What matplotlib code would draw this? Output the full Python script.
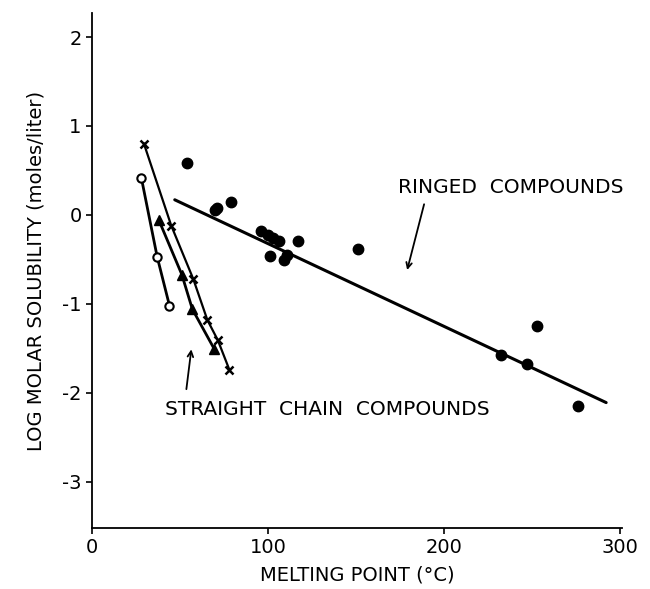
import numpy as np
import matplotlib.pyplot as plt

# ringed compounds (filled circles)
ring_mp = [54, 70, 71, 79, 96, 100, 103, 106, 117, 101, 109, 111, 151, 232, 247, 253, 276]
ring_sol = [0.58, 0.06, 0.08, 0.14, -0.18, -0.23, -0.26, -0.29, -0.29, -0.46, -0.51, -0.45, -0.38, -1.58, -1.68, -1.25, -2.15]
ring_fit_x = [47, 292]
ring_fit_y = [0.17, -2.11]

# straight chain compounds, three homologous series
open_mp = [28, 37, 44]
open_sol = [0.42, -0.47, -1.02]

tri_mp = [38, 51, 57, 69.5]
tri_sol = [-0.06, -0.67, -1.06, -1.51]

cross_mp = [29.5, 45, 57.5, 65.5, 71.5, 78]
cross_sol = [0.80, -0.12, -0.72, -1.18, -1.41, -1.74]

yticks = [-3, -2, -1, 0, 1, 2]
xticks = [0, 100, 200, 300]

plt.rcParams['font.family'] = 'DejaVu Sans'

fig = plt.figure(figsize=(6.5, 5.89), dpi=100)
ax = fig.add_axes([92/650, 1 - 528/589, 530/650, 515/589])

ax.plot(ring_fit_x, ring_fit_y, color='black', lw=2.2, solid_capstyle='round')
ax.plot(ring_mp, ring_sol, 'o', color='black', ms=7.5)

ax.plot(open_mp, open_sol, '-o', color='black', lw=2, ms=6, mfc='white', mew=1.5)
ax.plot(tri_mp, tri_sol, '-^', color='black', lw=2, ms=7.5)
ax.plot(cross_mp, cross_sol, '-x', color='black', lw=1.6, ms=6, mew=1.8)

ax.text(174, 0.31, 'RINGED  COMPOUNDS', fontsize=14.5, va='center', ha='left')
ax.annotate('', xy=(178.6, -0.65), xytext=(189, 0.15),
            arrowprops=dict(arrowstyle='->', color='black', lw=1.3))
ax.text(41.5, -2.19, 'STRAIGHT  CHAIN  COMPOUNDS', fontsize=14.5, va='center', ha='left')
ax.annotate('', xy=(56.6, -1.48), xytext=(53.4, -1.99),
            arrowprops=dict(arrowstyle='->', color='black', lw=1.3))

ax.set_xlim(0, 301)
ax.set_ylim(-3.52, 2.27)
ax.set_xticks(xticks)
ax.set_yticks(yticks)
ax.set_xticklabels([str(t) for t in xticks], fontsize=14)
ax.set_yticklabels([str(t) for t in yticks], fontsize=14)
ax.tick_params(direction='out', length=4, width=1.2)
for s in ['top', 'right']:
    ax.spines[s].set_visible(False)
for s in ['left', 'bottom']:
    ax.spines[s].set_linewidth(1.3)

ax.set_xlabel('MELTING POINT (°C)', fontsize=14, labelpad=6)
ax.set_ylabel('LOG MOLAR SOLUBILITY (moles/liter)', fontsize=14, labelpad=12)

fig.savefig('out.png', dpi=100)
